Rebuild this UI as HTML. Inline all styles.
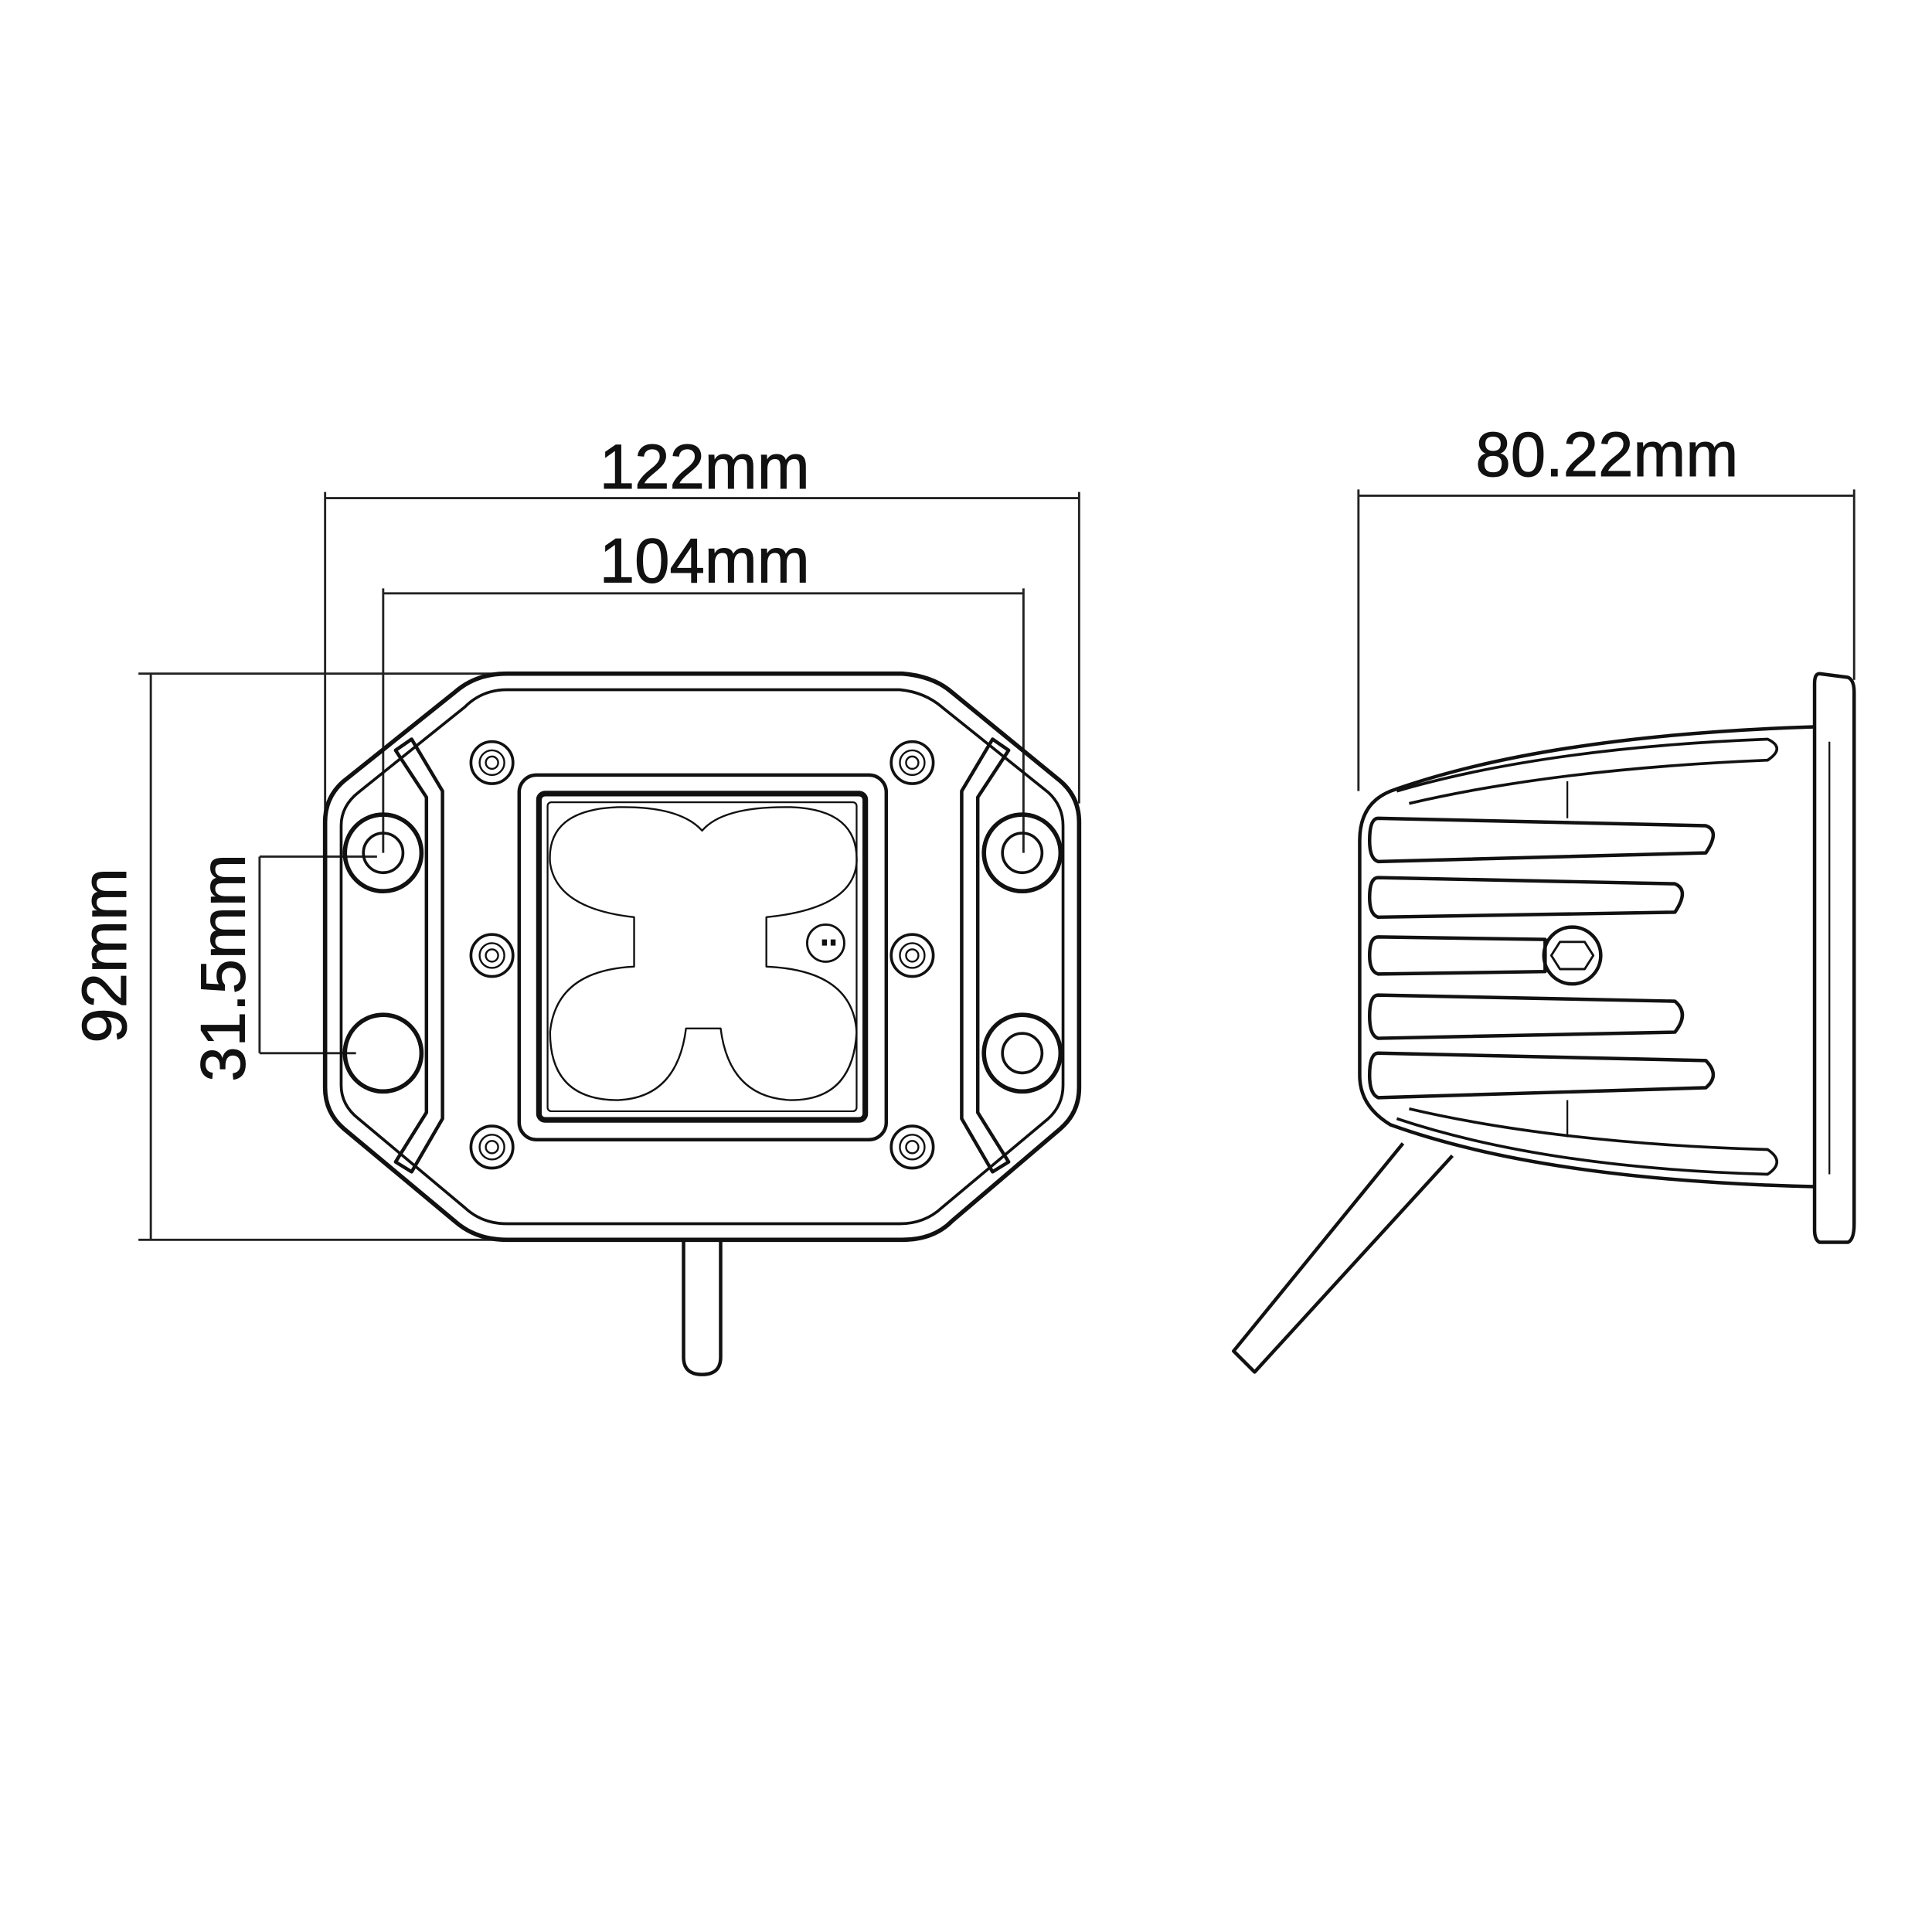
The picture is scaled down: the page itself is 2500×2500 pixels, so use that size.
<!DOCTYPE html>
<html><head><meta charset="utf-8"><style>
html,body{margin:0;padding:0;background:#fff;}
svg{display:block;}
text{font-family:"Liberation Sans",sans-serif;fill:#111;stroke:#111;stroke-width:0.6;}
</style></head><body>
<svg width="2500" height="2500" viewBox="0 0 1563 1563" xmlns="http://www.w3.org/2000/svg">
<rect width="1563" height="1563" fill="#fff"/>
<g fill="none" stroke="#222" stroke-width="1.8">
<line x1="263" y1="403" x2="873" y2="403"/>
<line x1="263" y1="398" x2="263" y2="660"/>
<line x1="873" y1="398" x2="873" y2="650"/>
<line x1="310" y1="480" x2="828" y2="480"/>
<line x1="310" y1="476" x2="310" y2="690"/>
<line x1="828" y1="476" x2="828" y2="690"/>
<line x1="112" y1="545" x2="400" y2="545"/>
<line x1="112" y1="1003" x2="400" y2="1003"/>
<line x1="122" y1="545" x2="122" y2="1003"/>
<line x1="210" y1="693" x2="210" y2="852"/>
<line x1="210" y1="693" x2="305" y2="693"/>
<line x1="210" y1="852" x2="288" y2="852"/>
<line x1="1099" y1="401" x2="1500" y2="401"/>
<line x1="1099" y1="396" x2="1099" y2="640"/>
<line x1="1500" y1="396" x2="1500" y2="550"/>
</g>
<text x="570" y="395" font-size="51" text-anchor="middle">122mm</text>
<text x="570" y="471" font-size="51" text-anchor="middle">104mm</text>
<text x="1300" y="385" font-size="51" text-anchor="middle">80.22mm</text>
<text transform="translate(102,773) rotate(-90)" font-size="51" text-anchor="middle">92mm</text>
<text transform="translate(198,783) rotate(-90)" font-size="51" text-anchor="middle">31.5mm</text>

<g fill="none" stroke="#111" stroke-width="3.5" stroke-linejoin="round">
<path d="M410,545 L730,545 Q755,547 770,560 L858,632 Q873,645 873,665 L873,880 Q873,900 858,913 L770,988 Q755,1003 730,1003 L410,1003 Q385,1003 368,988 L278,913 Q263,900 263,880 L263,665 Q263,645 278,632 L368,560 Q385,545 410,545 Z"/>
<path d="M410,558 L728,558 Q748,560 762,572 L848,641 Q860,652 860,668 L860,878 Q860,894 848,905 L762,977 Q748,990 728,990 L410,990 Q390,990 376,977 L290,905 Q276,894 276,878 L276,668 Q276,652 290,641 L376,572 Q390,558 410,558 Z" stroke-width="2.3"/>
<path d="M320,607 L333,598 L358,640 L358,905 L333,948 L320,940 L345,900 L345,645 Z" stroke-width="2.8"/>
<path d="M816,607 L803,598 L778,640 L778,905 L803,948 L816,940 L791,900 L791,645 Z" stroke-width="2.8"/>
<rect x="420" y="627" width="297" height="295" rx="14" stroke-width="2.8"/>
<rect x="436" y="642" width="264" height="264" rx="5" stroke-width="4.5"/>
<rect x="443" y="649" width="250" height="250" rx="3" stroke-width="1.4"/>
<path d="M513,742 Q450,735 445,698 Q442,655 500,653 Q550,652 568,672 Q585,652 640,653 Q695,655 693,698 Q690,735 620,742 L620,782 Q690,785 693,835 Q690,890 640,890 Q590,888 583,832 L555,832 Q548,888 500,890 Q445,890 445,835 Q450,785 513,782 Z" stroke-width="1.5"/>
<circle cx="668" cy="763" r="15" stroke-width="1.8"/>
<g stroke-width="2.3">
<circle cx="398" cy="617" r="17"/><circle cx="398" cy="617" r="10" stroke-width="1.5"/><circle cx="398" cy="617" r="5" stroke-width="1.5"/>
<circle cx="738" cy="617" r="17"/><circle cx="738" cy="617" r="10" stroke-width="1.5"/><circle cx="738" cy="617" r="5" stroke-width="1.5"/>
<circle cx="398" cy="773" r="17"/><circle cx="398" cy="773" r="10" stroke-width="1.5"/><circle cx="398" cy="773" r="5" stroke-width="1.5"/>
<circle cx="738" cy="773" r="17"/><circle cx="738" cy="773" r="10" stroke-width="1.5"/><circle cx="738" cy="773" r="5" stroke-width="1.5"/>
<circle cx="398" cy="928" r="17"/><circle cx="398" cy="928" r="10" stroke-width="1.5"/><circle cx="398" cy="928" r="5" stroke-width="1.5"/>
<circle cx="738" cy="928" r="17"/><circle cx="738" cy="928" r="10" stroke-width="1.5"/><circle cx="738" cy="928" r="5" stroke-width="1.5"/>
</g>
<circle cx="310" cy="690" r="31"/><circle cx="310" cy="690" r="16" stroke-width="2.3"/>
<circle cx="310" cy="852" r="31"/>
<circle cx="827" cy="690" r="31"/><circle cx="827" cy="690" r="16" stroke-width="2.3"/>
<circle cx="827" cy="852" r="31"/><circle cx="827" cy="852" r="16" stroke-width="2.3"/>
<path d="M553,1003 L553,1098 Q553,1112 568,1112 Q583,1112 583,1098 L583,1003" stroke-width="2.8"/>
</g>
<rect x="665" y="760" width="4" height="5" fill="#111"/><rect x="672" y="760" width="4" height="5" fill="#111"/>

<g fill="none" stroke="#111" stroke-width="2.8" stroke-linejoin="round">
<path d="M1472,545 L1495,548 Q1500,550 1500,560 L1500,990 Q1500,1003 1495,1005 L1472,1005 Q1468,1003 1468,995 L1468,553 Q1468,545 1472,545 Z"/>
<line x1="1480" y1="600" x2="1480" y2="950" stroke-width="1.4"/>
<path d="M1468,588 Q1250,595 1125,640 Q1100,650 1100,680 L1100,870 Q1100,895 1125,910 Q1250,955 1468,960"/>
<path d="M1130,640 Q1250,605 1430,598 Q1445,605 1430,615 Q1260,622 1140,650" stroke-width="2.3"/>
<path d="M1130,905 Q1250,945 1430,950 Q1445,940 1430,930 Q1260,925 1140,897" stroke-width="2.3"/>
<path d="M1115,662 L1380,668 Q1392,672 1380,690 L1115,697 Q1108,695 1108,680 Q1108,662 1115,662 Z"/>
<path d="M1115,710 L1355,715 Q1367,720 1355,738 L1115,742 Q1108,740 1108,726 Q1108,710 1115,710 Z"/>
<path d="M1115,758 L1250,760 L1250,786 L1115,788 Q1108,786 1108,773 Q1108,758 1115,758 Z"/>
<path d="M1115,805 L1355,810 Q1367,820 1355,835 L1115,840 Q1108,838 1108,822 Q1108,805 1115,805 Z"/>
<path d="M1115,852 L1380,858 Q1392,870 1380,880 L1115,888 Q1108,885 1108,870 Q1108,852 1115,852 Z"/>
<line x1="1268" y1="632" x2="1268" y2="662" stroke-width="1.4"/>
<line x1="1268" y1="890" x2="1268" y2="920" stroke-width="1.4"/>
<circle cx="1272" cy="773" r="23"/>
<path d="M1262,762 L1282,762 L1289,773 L1282,784 L1262,784 L1255,773 Z" stroke-width="1.8"/>
<path d="M1135,925 L998,1093 L1015,1110 L1175,935"/>
</g>
</svg>
</body></html>
